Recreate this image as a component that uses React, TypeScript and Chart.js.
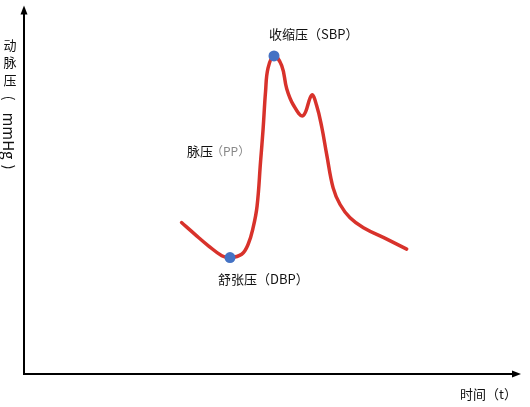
import { useEffect, useRef } from "react";
import { Chart, registerables } from "chart.js";

Chart.register(...registerables);

// time (s) and arterial pressure (mmHg)
const timeS = [
  0.317, 0.344, 0.371, 0.398, 0.4145, 0.438, 0.451, 0.461, 0.469, 0.476, 0.481,
  0.486, 0.491, 0.503, 0.5185, 0.5286, 0.542, 0.5614, 0.579, 0.5885, 0.599,
  0.609, 0.622, 0.636, 0.656, 0.683, 0.730, 0.770,
];
const pressure = [
  81.1, 77.9, 74.8, 72.1, 71.6, 72.5, 75.2, 79.7, 85.6, 97.7, 106.3,
  116.6, 123.0, 126.3, 123.7, 117.4, 113.0, 110.1, 115.7, 113.0, 107.1,
  99.6, 90.5, 86.0, 82.4, 79.7, 76.6, 73.9,
];
const markedIndices = [4, 13]; // DBP, SBP
const markedLabels = ["舒张压（DBP）", "收缩压（SBP）"];
const yAxisChars = ["动", "脉", "压"];
const yAxisUnitParts = ["(", "mmHg", ")"];
const xAxisLabel = "时间（t）";
const ppLabel = "脉压";
const ppUnit = "（PP）";
const xRange = [0, 1];
const yRange = [40, 140];

const FONT = '"Noto Sans CJK SC", "Noto Sans", sans-serif';

const overlayPlugin = {
  id: "overlay",
  beforeDatasetsDraw(chart: any) {
    const ctx = chart.ctx as CanvasRenderingContext2D;
    const { left, right, top, bottom } = chart.chartArea;
    ctx.save();
    ctx.strokeStyle = "#000";
    ctx.fillStyle = "#000";
    ctx.lineWidth = 2;
    // y axis
    ctx.beginPath();
    ctx.moveTo(left, bottom);
    ctx.lineTo(left, top + 6);
    ctx.stroke();
    ctx.beginPath();
    ctx.moveTo(left, top);
    ctx.lineTo(left - 3.5, top + 9);
    ctx.lineTo(left + 3.5, top + 9);
    ctx.closePath();
    ctx.fill();
    // x axis
    ctx.beginPath();
    ctx.moveTo(left - 1, bottom);
    ctx.lineTo(right - 6, bottom);
    ctx.stroke();
    ctx.beginPath();
    ctx.moveTo(right, bottom);
    ctx.lineTo(right - 9, bottom - 3.5);
    ctx.lineTo(right - 9, bottom + 3.5);
    ctx.closePath();
    ctx.fill();
    ctx.restore();
  },
  afterDraw(chart: any) {
    const ctx = chart.ctx as CanvasRenderingContext2D;
    const { left, right, bottom } = chart.chartArea;
    const xs = chart.scales.x;
    const ys = chart.scales.y;
    ctx.save();
    ctx.fillStyle = "#111";
    ctx.textBaseline = "middle";
    ctx.textAlign = "left";
    ctx.font = `13px ${FONT}`;

    // SBP label
    const sbpX = xs.getPixelForValue(timeS[markedIndices[1]]);
    const sbpY = ys.getPixelForValue(pressure[markedIndices[1]]);
    ctx.fillText(markedLabels[1], sbpX - 5, sbpY - 22);
    // DBP label
    const dbpX = xs.getPixelForValue(timeS[markedIndices[0]]);
    const dbpY = ys.getPixelForValue(pressure[markedIndices[0]]);
    ctx.fillText(markedLabels[0], dbpX - 12, dbpY + 22);
    // PP label
    const ppX = dbpX - 43;
    const ppY = 151;
    ctx.fillText(ppLabel, ppX, ppY);
    const w = ctx.measureText(ppLabel).width;
    ctx.fillStyle = "#888";
    ctx.font = `12px ${FONT}`;
    ctx.fillText(ppUnit, ppX + w - 2, ppY);

    // x axis label
    ctx.fillStyle = "#111";
    ctx.font = `13px ${FONT}`;
    ctx.fillText(xAxisLabel, right - 61, bottom + 20);

    // y axis label (vertical)
    ctx.textAlign = "center";
    const cx = left - 14;
    yAxisChars.forEach((c, i) => ctx.fillText(c, cx, 45 + i * 17.5));
    ctx.translate(cx, 0);
    ctx.rotate(Math.PI / 2);
    ctx.font = `14px ${FONT}`;
    ctx.fillText(yAxisUnitParts[0], 98, 1);
    ctx.font = `15px ${FONT}`;
    ctx.fillText(yAxisUnitParts[1], 136, 1);
    ctx.font = `14px ${FONT}`;
    ctx.fillText(yAxisUnitParts[2], 167, 1);
    ctx.restore();
  },
};

export default function App() {
  const ref = useRef<HTMLCanvasElement>(null);
  useEffect(() => {
    if (!ref.current) return;
    const curve = timeS.map((t, i) => ({ x: t, y: pressure[i] }));
    const marks = markedIndices.map((i) => ({ x: timeS[i], y: pressure[i] }));
    const chart = new Chart(ref.current, {
      type: "line",
      data: {
        datasets: [
          {
            data: marks,
            showLine: false,
            pointRadius: 5.5,
            pointBackgroundColor: "#4472c4",
            pointBorderWidth: 0,
            order: 0,
          },
          {
            data: curve,
            borderColor: "#d8322b",
            borderWidth: 3.5,
            pointRadius: 0,
            tension: 0.4,
            borderCapStyle: "round",
            borderJoinStyle: "round",
            order: 1,
          },
        ],
      },
      options: {
        animation: false,
        responsive: false,
        layout: { padding: { left: 24, right: 9, top: 3, bottom: 33 } },
        plugins: { legend: { display: false }, tooltip: { enabled: false } },
        scales: {
          x: { type: "linear", min: xRange[0], max: xRange[1], display: false },
          y: { type: "linear", min: yRange[0], max: yRange[1], display: false },
        },
      },
      plugins: [overlayPlugin],
    });
    return () => chart.destroy();
  }, []);
  return (
    <div style={{ position: "fixed", left: 0, top: 0, width: 530, height: 407, background: "#fff" }}>
      <canvas ref={ref} width={530} height={407} />
    </div>
  );
}
